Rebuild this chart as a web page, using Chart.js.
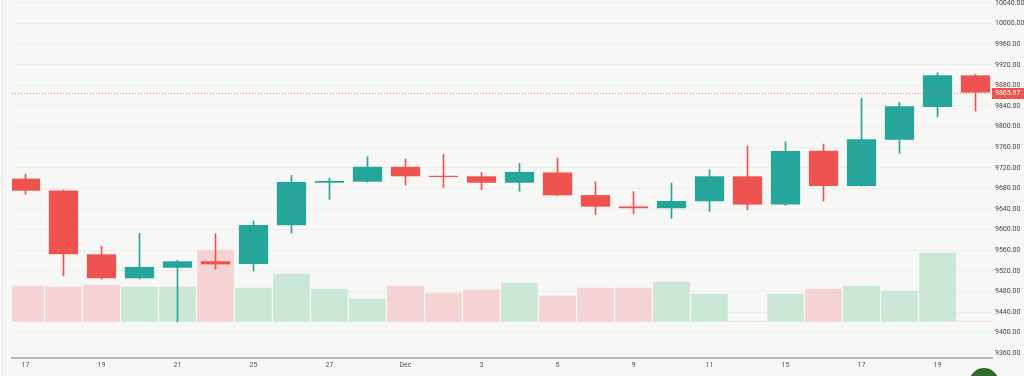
<!DOCTYPE html>
<html lang="en">

<head>
    <meta charset="UTF-8">
    <title>Candles</title>
    <script src="https://cdn.jsdelivr.net/npm/chart.js"></script>
    <style>
        html, body { margin: 0; padding: 0; background: #f7f8f6; overflow: hidden; }
        #wrap { position: relative; width: 1024px; height: 376px; }
        #badge { position: absolute; left: 969px; top: 368px; width: 30px; height: 30px; border-radius: 50%; background: #2e6b2c; }
    </style>
</head>

<body>
    <div id="wrap">
        <canvas id="priceChart"></canvas>
        <div id="badge"></div>
    </div>

    <script>
        // trading days, Nov 17 -> Dec 22
        const dates = ['17', '18', '19', '20', '21', '24', '25', '26', '27', '28', 'Dec', '2', '3', '4', '5',
            '8', '9', '10', '11', '12', '15', '16', '17', '18', '19', '22'];
        const opens = [9699, 9676, 9552, 9505.5, 9526, 9538.5, 9533, 9608.5, 9691, 9693, 9722, 9704.5, 9703.5,
            9691, 9711, 9667, 9645, 9641.5, 9655, 9703.5, 9648.5, 9753, 9684.5, 9774.5, 9838, 9899.5];
        const highs = [9708, 9677, 9568, 9593, 9540.5, 9592, 9617, 9705, 9700, 9741.5, 9737, 9746, 9711,
            9728.5, 9739, 9693, 9673.5, 9690, 9716, 9762, 9770.5, 9766, 9855, 9847, 9904.5, 9901.5];
        const lows = [9668.5, 9510, 9504, 9504, 9421, 9523, 9519.5, 9593, 9659, 9692, 9686.5, 9681.5, 9677.5,
            9674.5, 9666, 9629, 9631, 9622, 9635, 9638.5, 9647, 9655.5, 9684, 9748, 9819, 9830];
        const closes = [9675.5, 9552, 9505.5, 9527.5, 9538.5, 9532.5, 9609, 9692.5, 9694.5, 9722, 9703.5, 9702,
            9691, 9712, 9666.5, 9644.5, 9641.5, 9655.5, 9703.5, 9648.5, 9752.5, 9684.5, 9775.5, 9839.5, 9899.5, 9865.97];
        const volumes = [36, 35, 37, 35, 35, 72, 34, 48, 33, 23, 36, 29, 32, 39, 26, 34, 34, 40, 28, 1,
            28, 33, 36, 31, 69, 1];
        const priceTicks = [9360, 9400, 9440, 9480, 9520, 9560, 9600, 9640, 9680, 9720, 9760, 9800, 9840,
            9880, 9920, 9960, 10000, 10040];
        const lastPrice = closes[closes.length - 1];

        const UP = '#26a69a', DOWN = '#ef5350';
        const UP_VOL = '#c9e7d4', DOWN_VOL = '#f5d3d2';
        const isUp = opens.map((o, i) => closes[i] >= o);

        // dotted last price line + price tag on the axis
        const lastPricePlugin = {
            id: 'lastPrice',
            beforeDraw(chart) {
                const ctx = chart.ctx;
                ctx.save();
                ctx.strokeStyle = '#e6e7e5';
                ctx.lineWidth = 1;
                ctx.beginPath();
                ctx.moveTo(2.5, 0);
                ctx.lineTo(2.5, chart.height);
                ctx.stroke();
                ctx.restore();
            },
            afterDraw(chart) {
                const { ctx, chartArea } = chart;
                const y = Math.round(chart.scales.y.getPixelForValue(lastPrice)) + 0.5;
                ctx.save();
                ctx.strokeStyle = 'rgba(239, 83, 80, 0.7)';
                ctx.lineWidth = 1;
                ctx.setLineDash([1, 2]);
                ctx.beginPath();
                ctx.moveTo(chartArea.left, y);
                ctx.lineTo(chartArea.right, y);
                ctx.stroke();
                ctx.setLineDash([]);
                ctx.fillStyle = DOWN;
                ctx.fillRect(chartArea.right, y - 5.5, chart.width - chartArea.right, 11);
                ctx.fillStyle = '#ffffff';
                ctx.font = '7px Roboto';
                ctx.textBaseline = 'middle';
                ctx.fillText(lastPrice.toFixed(2), chartArea.right + 3, y);
                ctx.restore();
            }
        };

        const ctx = document.getElementById('priceChart').getContext('2d');
        const priceChart = new Chart(ctx, {
            type: 'bar',
            data: {
                datasets: [{
                    label: 'Body',
                    data: opens.map((o, i) => ({ x: i, y: [o, closes[i]] })),
                    backgroundColor: isUp.map(u => u ? UP : DOWN),
                    barPercentage: 0.77,
                    categoryPercentage: 1,
                    grouped: false,
                    yAxisID: 'y',
                    order: 1
                }, {
                    label: 'Wick',
                    data: lows.map((l, i) => ({ x: i, y: [l, highs[i]] })),
                    backgroundColor: isUp.map(u => u ? UP : DOWN),
                    barThickness: 1,
                    grouped: false,
                    yAxisID: 'y',
                    order: 2
                }, {
                    label: 'Volume',
                    data: volumes.map((v, i) => ({ x: i, y: v })),
                    backgroundColor: isUp.map(u => u ? UP_VOL : DOWN_VOL),
                    barPercentage: 0.965,
                    categoryPercentage: 1,
                    grouped: false,
                    yAxisID: 'yv',
                    order: 3
                }]
            },
            options: {
                responsive: true,
                maintainAspectRatio: false,
                animation: false,
                layout: { padding: { left: 12, top: 0, right: 0, bottom: 0 } },
                plugins: { legend: { display: false }, tooltip: { enabled: false } },
                scales: {
                    x: {
                        type: 'linear',
                        offset: false,
                        min: -0.355,
                        max: 25.434,
                        grid: { display: false, drawTicks: false, offset: false },
                        border: { display: true, color: '#b2b5be', width: 2 },
                        afterBuildTicks: axis => {
                            axis.ticks = dates.map((d, i) => ({ value: i })).filter(t => t.value % 2 === 0);
                        },
                        afterFit: axis => {
                            axis.height = 18;
                            axis.paddingLeft = 0;
                            axis.paddingRight = 0;
                        },
                        ticks: {
                            autoSkip: false,
                            maxRotation: 0,
                            padding: 3,
                            color: '#555',
                            font: { family: 'Roboto', size: 7 },
                            callback: v => dates[v]
                        }
                    },
                    y: {
                        position: 'right',
                        min: 9350.7,
                        max: 10045.8,
                        grid: { color: '#eceeeb', drawTicks: false },
                        border: { display: false },
                        afterBuildTicks: axis => {
                            axis.ticks = priceTicks.map(v => ({ value: v }));
                        },
                        afterFit: axis => {
                            axis.width = 32;
                            axis.paddingTop = 0;
                            axis.paddingBottom = 0;
                        },
                        ticks: {
                            padding: 3,
                            color: '#444',
                            font: { family: 'Roboto', size: 7 },
                            callback: v => v.toFixed(2)
                        }
                    },
                    yv: {
                        display: false,
                        min: -36.3,
                        max: 321.7
                    }
                }
            },
            plugins: [lastPricePlugin]
        });
    </script>
</body>

</html>
